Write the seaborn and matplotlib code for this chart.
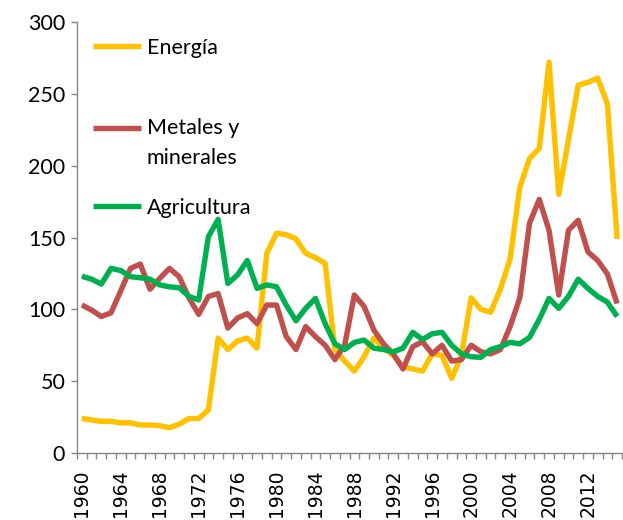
import numpy as np
import pandas as pd
import matplotlib
matplotlib.use("Agg")
import matplotlib.pyplot as plt
import seaborn as sns
from matplotlib.legend_handler import HandlerLine2D
from matplotlib.ticker import FixedLocator

years = list(range(1960, 2016))
energia = [24, 23, 22, 22, 21, 21, 19.5, 19.5, 19, 17.6,
           20, 24, 24, 30, 80, 72, 78, 80, 73, 139,
           153, 152, 149, 139, 136, 132, 72, 64, 57, 67,
           80, 73, 68, 60, 58.5, 57, 69, 68, 52, 68,
           108, 100, 98, 114, 135, 185, 205, 212, 272, 180,
           218, 256, 258, 261, 243, 149]
metales = [103, 99.5, 95, 97.6, 113, 128.5, 131.5, 114, 121.5, 128.5,
           122.7, 108, 96.5, 109, 111, 87, 94, 97, 90, 103,
           103, 81, 72, 88, 81, 75, 65, 75, 110, 102,
           85.6, 76, 69, 58.5, 74, 77.5, 69, 75, 64, 65,
           75, 70.5, 69, 72, 88, 108, 160, 176.5, 155, 110,
           155, 162, 140, 134, 124.6, 104]
agricultura = [123, 121, 117.6, 128.5, 127, 122.7, 122, 121, 117, 115.7,
               115, 109, 106.5, 150.5, 162.6, 118, 124, 134, 114.6, 117,
               115.7, 103, 92, 100.7, 107.6, 90, 76, 72, 77, 78.6,
               73, 72, 70.5, 73, 84, 79, 83, 84, 75, 69,
               67, 66.6, 72, 74, 77, 76, 80.5, 93, 107.6, 100.7,
               109, 121, 114.6, 109, 105, 95]
series = ["Energía", "Metales y\nminerales", "Agricultura"]
colors = ["#FFC000", "#C0504D", "#00B050"]
xtick_years = list(range(1960, 2016, 4))
ytick_values = [0, 50, 100, 150, 200, 250, 300]

sns.set_theme(style="white")
plt.rcParams['font.family'] = ['Lato', 'DejaVu Sans']

df = pd.DataFrame({
    "year": years * 3,
    "value": energia + metales + agricultura,
    "serie": [series[0]] * len(years) + [series[1]] * len(years) + [series[2]] * len(years),
})

fig = plt.figure(figsize=(6.23, 5.2), dpi=100)
ax = fig.add_axes([77 / 623, 67 / 520, 545 / 623, 431 / 520])
sns.lineplot(data=df, x="year", y="value", hue="serie", hue_order=series,
             palette=colors, linewidth=3.9, ax=ax, legend=True)
for ln in ax.get_lines():
    ln.set_solid_joinstyle("round")
    ln.set_solid_capstyle("butt")

handles, labels = ax.get_legend_handles_labels()
if ax.get_legend() is not None:
    ax.get_legend().remove()

ax.set_xlim(1959.5, 2015.5)
ax.set_ylim(0, 300)
ax.set_xlabel("")
ax.set_ylabel("")

gray = "#868686"
for s in ["top", "right"]:
    ax.spines[s].set_visible(False)
for s in ["left", "bottom"]:
    ax.spines[s].set_color(gray)
    ax.spines[s].set_linewidth(1.0)

ax.xaxis.set_major_locator(FixedLocator(xtick_years))
ax.set_xticklabels([str(y) for y in xtick_years], rotation=90,
                   fontfamily="DejaVu Sans", fontsize=13.5, color="black")
ax.xaxis.set_minor_locator(FixedLocator(np.arange(1959.5, 2016, 1.0)))
ax.tick_params(axis="x", which="major", length=0, pad=12)
ax.tick_params(axis="x", which="minor", length=4.5, width=1, color=gray, direction="out", bottom=True)

ax.set_yticks(ytick_values)
ax.set_yticklabels([str(v) for v in ytick_values], fontsize=15.5, color="black")
ax.tick_params(axis="y", which="major", length=4.5, width=1, color=gray, direction="out", left=True, pad=4)
ax.grid(False)


class ShiftedHandler(HandlerLine2D):
    def __init__(self, shift=0.0, **kw):
        super().__init__(**kw)
        self.shift = shift

    def create_artists(self, legend, orig_handle, xdescent, ydescent,
                       width, height, fontsize, trans):
        arts = super().create_artists(legend, orig_handle, xdescent, ydescent,
                                      width, height, fontsize, trans)
        for a in arts:
            a.set_ydata(np.asarray(a.get_ydata(), dtype=float) + self.shift)
        return arts


hmap = {h_l[1]: h_l[0] for h_l in zip(handles, labels)}
ypix = {series[0]: 48, series[1]: 143, series[2]: 208}
x0 = (93 - 77) / 545
legends = []
for i, name in enumerate(series):
    h = hmap[name]
    yfrac = (453 - ypix[name]) / 431
    hm = {h: ShiftedHandler(shift=10.8)} if "\n" in name else None
    leg = ax.legend(handles=[h], labels=[name], loc="center left",
                    bbox_to_anchor=(x0, yfrac), frameon=False,
                    borderpad=0, borderaxespad=0, handlelength=2.25,
                    handletextpad=0.25, fontsize=15.5, handler_map=hm)
    for t in leg.get_texts():
        t.set_linespacing(1.6)
        t.set_color("black")
    legends.append(leg)
for leg in legends[:-1]:
    ax.add_artist(leg)

fig.savefig("out.png", dpi=100)
